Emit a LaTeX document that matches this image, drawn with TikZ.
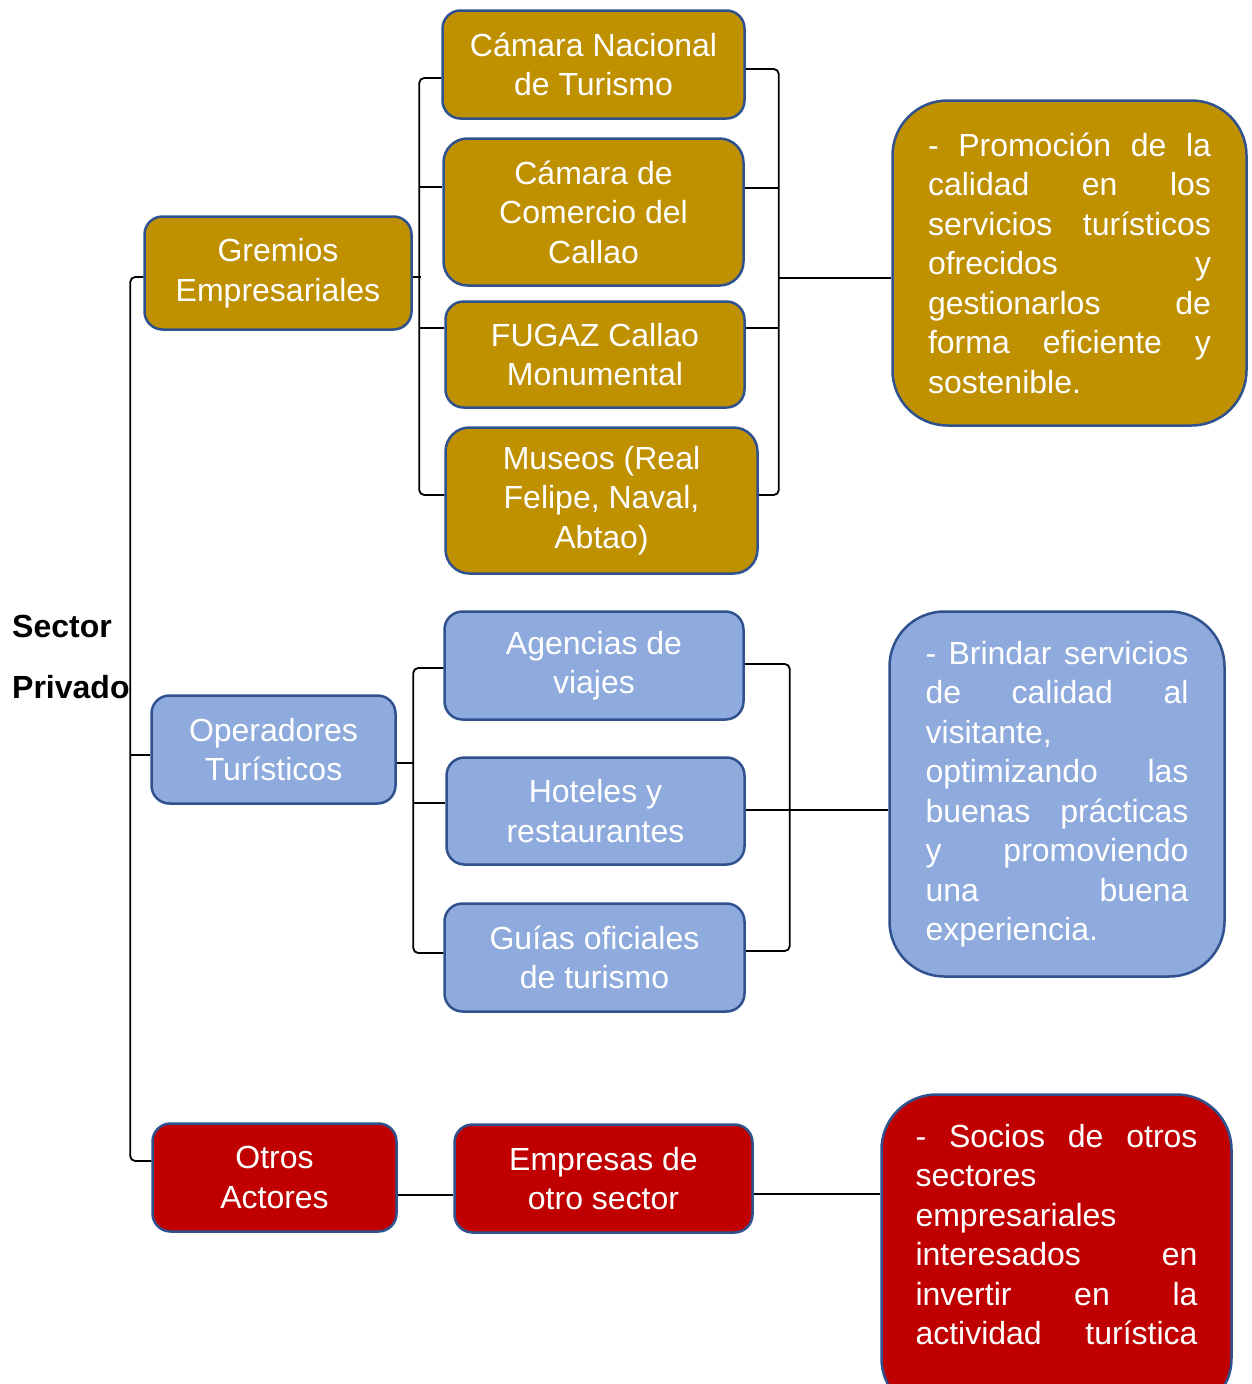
\documentclass[tikz,border=0pt]{standalone}
\usepackage{fontspec}
\setmainfont{Liberation Sans}
\definecolor{gold}{RGB}{191,144,0}
\definecolor{skyb}{RGB}{143,170,220}
\definecolor{darkred}{RGB}{192,0,0}
\definecolor{bord}{RGB}{47,82,143}
\newcommand{\jl}[2]{\makebox[#1][s]{#2}}
\begin{document}
\begin{tikzpicture}[x=1pt,y=-1pt,
  font=\fontsize{32}{39.5}\selectfont,
  box/.style={draw=bord, line width=2.5pt, text=white, align=center, inner sep=0pt, rounded corners=18pt},
  tall/.style={rounded corners=24pt},
  big/.style={rounded corners=55pt},
  goldbox/.style={box, fill=gold},
  bluebox/.style={box, fill=skyb},
  redbox/.style={box, fill=darkred},
  sz/.style 2 args={minimum width=#1pt, minimum height=#2pt},
  conn/.style={draw=black, line width=1.8pt, rounded corners=5pt}]
\clip (0,0) rectangle (1251,1384);
\fill[white] (0,0) rectangle (1251,1384);

% Sector label
\node[anchor=west, align=left, inner sep=0pt, font=\fontsize{32}{61}\selectfont\bfseries] (sec) at (12,656.5) {Sector\\Privado};

% Gremios branch
\node[goldbox, sz={267}{113}] (gre) at (278,273) {Gremios\\Empresariales};
\node[goldbox, sz={302}{108}] (cnt) at (593.5,64.5) {Cámara Nacional\\de Turismo};
\node[goldbox, tall, sz={300}{147}] (ccc) at (593.5,212) {Cámara de\\Comercio del\\Callao};
\node[goldbox, sz={299}{106}] (fug) at (595,354.5) {FUGAZ Callao\\Monumental};
\node[goldbox, tall, sz={312}{146}] (mus) at (601.5,500.5) {Museos (Real\\Felipe, Naval,\\Abtao)};
\node[goldbox, big, sz={354}{325}, align=left] (gbx) at (1069.5,263) {%
\jl{283pt}{- Promoción de la}\\
\jl{283pt}{calidad en los}\\
\jl{283pt}{servicios turísticos}\\
\jl{283pt}{ofrecidos y}\\
\jl{283pt}{gestionarlos de}\\
\jl{283pt}{forma eficiente y}\\
sostenible.};

% Operadores branch
\node[bluebox, sz={244}{108}] (ope) at (273.5,749.5) {Operadores\\Turísticos};
\node[bluebox, sz={299}{108}] (agv) at (594,665.5) {Agencias de\\viajes};
\node[bluebox, sz={298}{107}] (hot) at (595.5,811) {Hoteles y\\restaurantes};
\node[bluebox, sz={300}{108}] (gui) at (594.5,957.5) {Guías oficiales\\de turismo};
\node[bluebox, big, sz={335}{365}, align=left] (bbx) at (1057,794) {%
\jl{263pt}{- Brindar servicios}\\
\jl{263pt}{de calidad al}\\
visitante,\\
\jl{263pt}{optimizando las}\\
\jl{263pt}{buenas prácticas}\\
\jl{263pt}{y promoviendo}\\
\jl{263pt}{una buena}\\
experiencia.};

% Otros branch
\node[redbox, sz={244}{108}] (otr) at (274.5,1177.5) {Otros\\Actores};
\node[redbox, sz={298}{108}] (emp) at (603.5,1178.5) {Empresas de\\otro sector};
\node[redbox, big, sz={350}{319}, align=left] (rbx) at (1056.5,1254) {%
\jl{282pt}{- Socios de otros}\\
sectores\\
empresariales\\
\jl{282pt}{interesados en}\\
\jl{282pt}{invertir en la}\\
\jl{282pt}{actividad turística}\\
\mbox{}};

% trunk
\draw[conn] ([yshift=-4pt]gre.west) -- ++(-13,0) |- ([yshift=16.5pt]otr.west);
\draw[conn] ([yshift=-5.5pt]ope.west) -- ++(-20,0);

% Gremios brackets
\draw[conn] ([yshift=-4pt]gre.east) -- ++(8,0);
\draw[conn] ([yshift=-13.5pt]cnt.west) -- ++(-22,0) |- ([yshift=5.5pt]mus.west);
\draw[conn] ([yshift=25pt]ccc.west) -- ++(-23,0);
\draw[conn] ([yshift=26.5pt]fug.west) -- ++(-25,0);
\draw[conn] ([yshift=-4.5pt]cnt.east) -- ++(33,0) |- ([yshift=5.5pt]mus.east);
\draw[conn] ([yshift=24pt]ccc.east) -- ++(34,0);
\draw[conn] ([yshift=26.5pt]fug.east) -- ++(33,0);
\draw[conn] ([yshift=-15pt]gbx.west) -- ++(-112,0);

% Operadores brackets
\draw[conn] ([yshift=-13.5pt]ope.east) -- ++(16,0);
\draw[conn] ([yshift=-2.5pt]agv.west) -- ++(-30,0) |- ([yshift=4.5pt]gui.west);
\draw[conn] ([yshift=8pt]hot.west) -- ++(-32,0);
\draw[conn] ([yshift=1.5pt]agv.east) -- ++(45,0) |- ([yshift=6.5pt]gui.east);
\draw[conn] ([yshift=1pt]hot.east) -- ([yshift=-16pt]bbx.west);

% Otros connectors
\draw[conn] ([yshift=-17.5pt]otr.east) -- ([yshift=-16.5pt]emp.west);
\draw[conn] ([yshift=-15.5pt]emp.east) -- ([yshift=60pt]rbx.west);
\end{tikzpicture}
\end{document}
